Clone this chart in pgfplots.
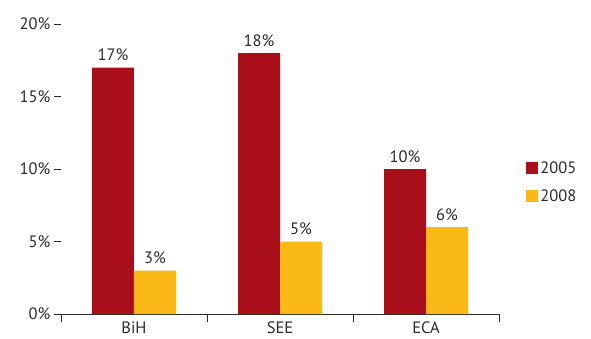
\documentclass[border=0pt]{standalone}
\usepackage{pgfplots}
\pgfplotsset{compat=1.18}
\usepackage{fontspec}
\setmainfont{PT Sans}
\definecolor{barred}{HTML}{A80F1A}
\definecolor{baryel}{HTML}{FBB917}
\definecolor{txt}{HTML}{2B2B2B}

\begin{document}
\begin{tikzpicture}[x=1pt,y=1pt]
\path[use as bounding box] (-61,-24) rectangle (530,314);
\begin{axis}[
  at={(0,0)}, anchor=south west,
  width=438pt, height=290pt, scale only axis,
  ybar=0pt, bar width=42pt,
  xmin=-0.5, xmax=2.5, ymin=0, ymax=20,
  axis lines*=left,
  y axis line style={draw=none},
  x axis line style={txt, line width=0.8pt},
  xtick={0,1,2}, xticklabels={BiH,SEE,ECA},
  minor xtick={-0.5,0.5,1.5,2.5},
  ytick={0,5,...,20},
  yticklabel={\pgfmathprintnumber{\tick}\%},
  /pgf/number format/assume math mode=true,
  tick align=outside, major tick length=7pt, minor tick length=8pt,
  tick style={txt, line width=0.8pt},
  major x tick style={draw=none},
  ticklabel style={font=\fontsize{16.5}{18}\selectfont, text=txt},
  xticklabel style={yshift=3pt},
  nodes near coords={\pgfmathprintnumber{\pgfplotspointmeta}\%},
  every node near coord/.append style={font=\fontsize{16.5}{18}\selectfont, text=txt, yshift=3pt},
  legend style={at={(1.062,0.455)}, anchor=west, draw=none, fill=none,
    font=\fontsize{16.5}{18}\selectfont, text=txt, row sep=11pt, inner sep=0pt},
  legend cell align=left,
  legend image code/.code={\fill[#1] (0pt,-6pt) rectangle (12pt,6pt);},
]
\addplot[fill=barred, draw=none] coordinates {(0,17) (1,18) (2,10)};
\addplot[fill=baryel, draw=none] coordinates {(0,3) (1,5) (2,6)};
\legend{2005,2008}
\end{axis}
\end{tikzpicture}
\end{document}
